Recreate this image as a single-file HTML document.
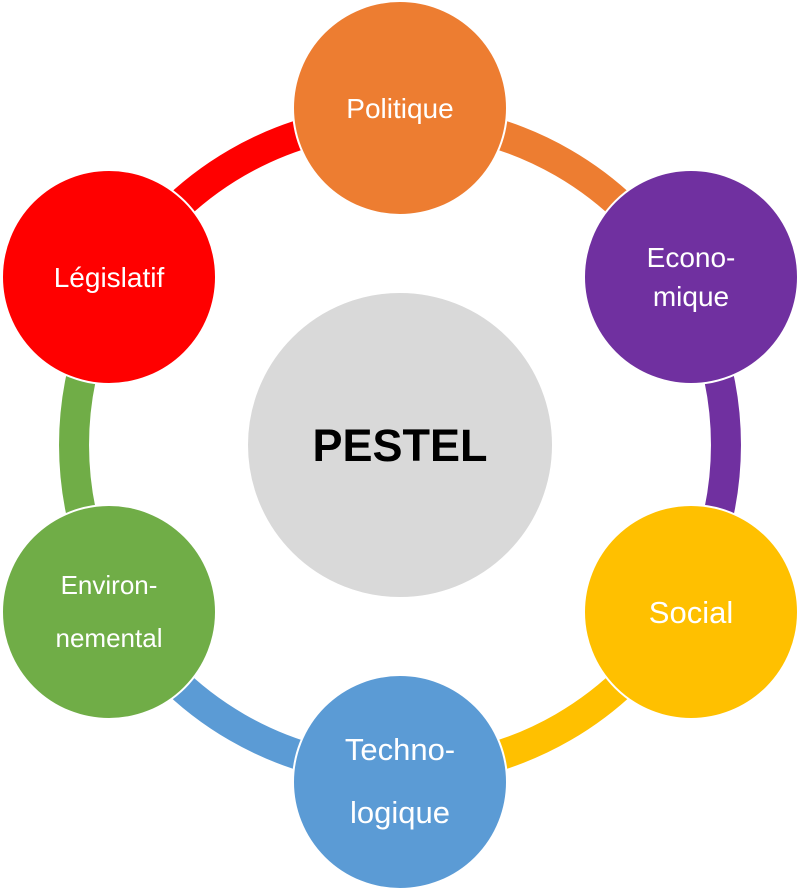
<!DOCTYPE html>
<html><head><meta charset="utf-8"><style>
html,body{margin:0;padding:0;background:#fff;}
svg{display:block;}
text{font-family:"Liberation Sans",sans-serif;fill:#fff;text-anchor:middle;}
</style></head><body>
<svg width="800" height="891" viewBox="0 0 800 891">
<g fill="none" stroke-width="30">
<path d="M400,119 A326,326 0 0 1 682.3,282" stroke="#ED7D31"/>
<path d="M682.3,282 A326,326 0 0 1 682.3,608" stroke="#7030A0"/>
<path d="M682.3,608 A326,326 0 0 1 400,771" stroke="#FFC000"/>
<path d="M400,771 A326,326 0 0 1 117.7,608" stroke="#5B9BD5"/>
<path d="M117.7,608 A326,326 0 0 1 117.7,282" stroke="#70AD47"/>
<path d="M117.7,282 A326,326 0 0 1 400,119" stroke="#FF0000"/>
</g>
<g stroke="#fff" stroke-width="2">
<circle cx="400" cy="445" r="153" fill="#D9D9D9"/>
<circle cx="400" cy="108" r="107" fill="#ED7D31"/>
<circle cx="691" cy="277" r="107" fill="#7030A0"/>
<circle cx="691" cy="612" r="107" fill="#FFC000"/>
<circle cx="400" cy="782" r="107" fill="#5B9BD5"/>
<circle cx="109" cy="612" r="107" fill="#70AD47"/>
<circle cx="109" cy="277" r="107" fill="#FF0000"/>
</g>
<text x="400" y="461" style="fill:#000;font-weight:bold;font-size:45px">PESTEL</text>
<text x="400" y="118" font-size="28">Politique</text>
<text x="691" y="267" font-size="28">Econo-</text>
<text x="691" y="306" font-size="28">mique</text>
<text x="691" y="623" font-size="31">Social</text>
<text x="400" y="760" font-size="31">Techno-</text>
<text x="400" y="823" font-size="31">logique</text>
<text x="109" y="594" font-size="26">Environ-</text>
<text x="109" y="647" font-size="26">nemental</text>
<text x="109" y="287" font-size="28">Législatif</text>
</svg>
</body></html>
